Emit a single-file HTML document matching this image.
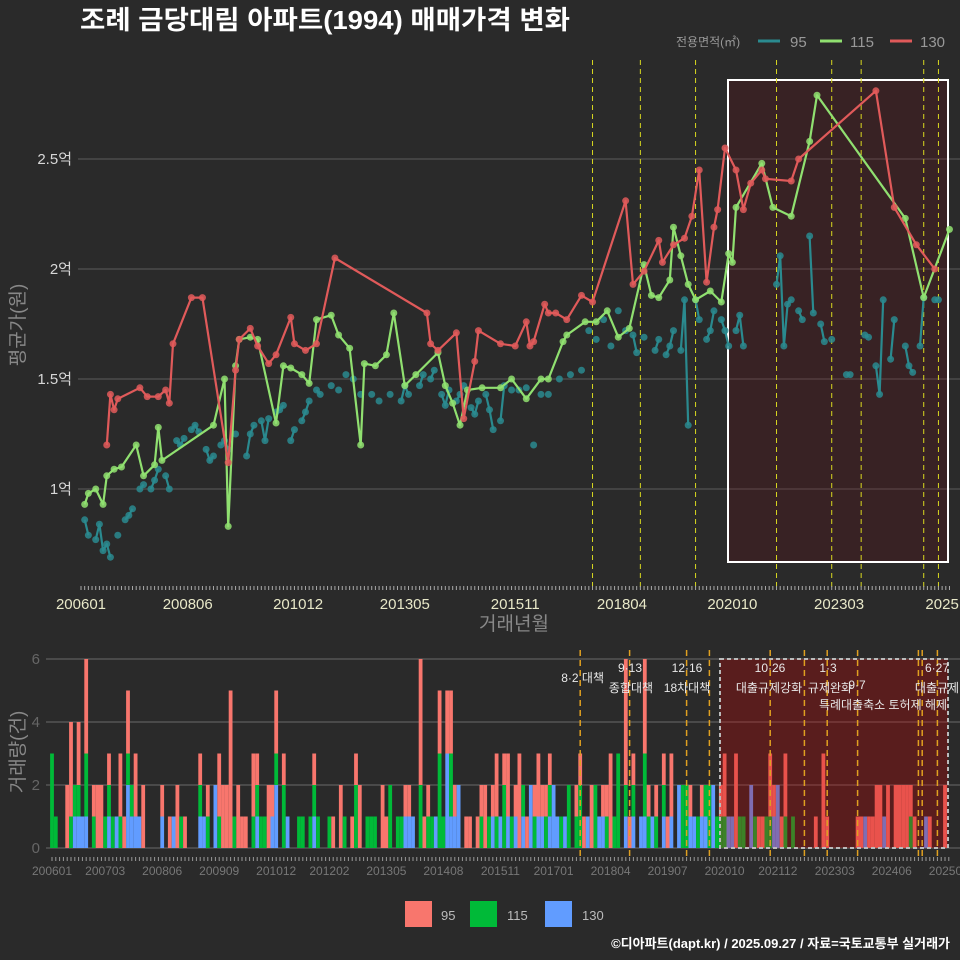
<!DOCTYPE html>
<html><head><meta charset="utf-8"><style>
html,body{margin:0;padding:0;background:#2a2a2a;}
svg{display:block;font-family:"Liberation Sans","Noto Sans CJK KR",sans-serif;}
</style></head><body>
<svg id="c" width="960" height="960" viewBox="0 0 960 960">
<rect x="0" y="0" width="960" height="960" fill="#2a2a2a"/>
<text x="80" y="29" fill="#ffffff" font-size="26" font-weight="bold" textLength="490" lengthAdjust="spacingAndGlyphs">조례 금당대림 아파트(1994) 매매가격 변화</text>
<g>
<text x="676" y="46" fill="#999" font-size="12">전용면적(㎡)</text>
<line x1="758" y1="41" x2="780" y2="41" stroke="#2a8a8f" stroke-width="3"/>
<text x="790" y="47" fill="#999" font-size="15">95</text>
<line x1="820" y1="41" x2="842" y2="41" stroke="#90e070" stroke-width="3"/>
<text x="850" y="47" fill="#999" font-size="15">115</text>
<line x1="890" y1="41" x2="912" y2="41" stroke="#e05a5a" stroke-width="3"/>
<text x="920" y="47" fill="#999" font-size="15">130</text>
</g>
<g id="topg"></g>
<g id="botg"></g>
<g>
<rect x="405" y="901" width="27" height="26" fill="#f8766d"/>
<text x="441" y="920" fill="#bbb" font-size="13">95</text>
<rect x="470" y="901" width="27" height="26" fill="#00ba38"/>
<text x="507" y="920" fill="#bbb" font-size="13">115</text>
<rect x="545" y="901" width="27" height="26" fill="#619cff"/>
<text x="582" y="920" fill="#bbb" font-size="13">130</text>
</g>
<text x="950" y="948" text-anchor="end" fill="#fff" font-size="13" font-weight="bold">©디아파트(dapt.kr) / 2025.09.27 / 자료=국토교통부 실거래가</text>
</svg>
<script>
// ---- data (month index from 2006-01) ----
const redMonths=[7,8,9,10,16,18,21,23,24,25,30,33,40,42,43,46,48,51,53,57,58,61,64,69,94,95,97,102,104,107,108,114,118,121,122,123,126,127,129,132,136,139,148,150,153,157,158,161,164,166,168,170,172,173,175,178,180,182,185,186,193,195,216,221,227,232];
const redValues=[1.20,1.43,1.36,1.41,1.46,1.42,1.42,1.45,1.39,1.66,1.87,1.87,1.12,1.54,1.68,1.73,1.65,1.57,1.61,1.78,1.66,1.63,1.66,2.05,1.80,1.66,1.63,1.71,1.32,1.58,1.72,1.66,1.65,1.76,1.65,1.67,1.84,1.80,1.80,1.77,1.88,1.85,2.31,1.93,1.99,2.13,2.03,2.11,2.14,2.24,2.45,1.94,2.19,2.27,2.55,2.45,2.27,2.39,2.45,2.41,2.40,2.50,2.81,2.28,2.11,2.00];
const greenMonths=[1,2,4,6,7,9,11,15,17,20,21,22,36,39,40,42,43,46,48,53,55,57,60,62,64,68,70,73,76,77,80,83,85,88,91,97,99,101,103,105,109,114,117,121,125,127,131,132,137,140,143,146,149,153,155,157,160,161,163,165,167,171,174,176,177,178,185,188,193,198,200,224,229,236];
const greenValues=[0.93,0.98,1.00,0.93,1.06,1.09,1.10,1.20,1.06,1.11,1.28,1.13,1.29,1.50,0.83,1.56,1.68,1.69,1.68,1.30,1.56,1.55,1.52,1.48,1.77,1.79,1.70,1.64,1.20,1.57,1.56,1.61,1.80,1.47,1.52,1.62,1.47,1.39,1.29,1.45,1.46,1.46,1.50,1.41,1.50,1.50,1.67,1.70,1.76,1.76,1.81,1.69,1.73,2.02,1.88,1.87,1.95,2.19,2.06,1.93,1.86,1.90,1.85,2.07,2.03,2.28,2.48,2.28,2.24,2.58,2.79,2.23,1.87,2.18];
const tealMonths=[1,2,4,5,6,7,8,10,12,13,14,16,17,19,20,21,23,24,26,27,28,30,31,32,34,35,36,38,39,40,42,45,46,47,49,50,51,53,54,55,57,58,60,61,62,64,65,68,70,72,74,76,79,81,84,87,88,89,92,93,95,96,98,99,100,102,103,104,106,107,108,110,111,112,114,115,117,119,121,123,125,127,130,133,136,138,140,142,144,146,148,150,151,153,156,157,159,160,161,163,164,165,167,168,170,171,172,174,175,176,178,179,180,189,190,191,192,193,195,196,198,199,201,202,204,208,209,213,214,216,217,218,220,221,224,225,226,228,229,232,233];
const tealValues=[0.86,0.79,0.77,0.84,0.72,0.75,0.69,0.79,0.86,0.88,0.91,1.00,1.02,1.00,1.04,1.09,1.06,1.00,1.22,1.20,1.23,1.27,1.29,1.26,1.18,1.13,1.15,1.20,1.22,1.18,1.25,1.15,1.25,1.29,1.31,1.22,1.32,1.35,1.36,1.38,1.22,1.27,1.31,1.35,1.40,1.45,1.43,1.47,1.45,1.52,1.50,1.43,1.43,1.40,1.43,1.40,1.47,1.43,1.47,1.52,1.50,1.54,1.43,1.38,1.45,1.40,1.43,1.47,1.37,1.34,1.40,1.43,1.36,1.27,1.31,1.47,1.45,1.45,1.46,1.20,1.43,1.43,1.50,1.52,1.54,1.72,1.68,1.77,1.65,1.81,1.72,1.70,1.62,1.69,1.63,1.68,1.61,1.65,1.72,1.63,1.86,1.29,1.86,1.77,1.68,1.72,1.81,1.77,1.72,1.65,1.72,1.79,1.65,1.93,2.06,1.65,1.84,1.86,1.81,1.77,2.15,1.80,1.75,1.67,1.68,1.52,1.52,1.70,1.69,1.56,1.43,1.86,1.59,1.77,1.65,1.56,1.53,1.65,1.87,1.86,1.86];
const topTickLabels=["200601","200806","201012","201305","201511","201804","202010","202303","2025"];
const topTickMonths=[0,29,59,88,118,147,177,206,234];
const yTickValues=[1,1.5,2,2.5];
const yTickLabels=["1억","1.5억","2억","2.5억"];
const policyMonthsTop=[139,152,167,189,204,212,229,233];
// volume bars
const barMonths=[0,1,4,5,6,7,8,9,11,12,13,14,15,16,17,18,19,20,21,22,23,24,29,31,32,33,34,35,39,40,41,43,44,45,46,47,48,49,50,51,53,54,55,56,57,58,59,61,62,65,66,68,69,70,73,74,76,77,79,80,81,83,84,85,87,88,89,91,92,93,94,95,97,98,99,100,101,102,103,104,105,106,107,109,110,112,113,114,115,116,117,118,119,120,121,122,123,124,125,126,127,128,129,130,131,132,133,134,135,136,138,139,140,141,142,143,144,145,146,147,148,149,151,152,153,155,156,157,158,159,161,162,163,165,166,167,168,169,170,171,172,173,174,175,176,177,178,179,180,181,182,184,185,186,187,188,189,190,191,192,193,195,201,203,204,212,213,214,215,216,217,218,219,220,222,223,224,225,226,227,230,231,235];
const bar95 =[0,0,2,3,0,2,0,3,1,2,2,0,1,0,0,2,1,2,0,2,0,2,1,1,0,2,0,1,1,0,1,0,2,2,2,5,0,2,1,1,2,1,0,0,2,1,2,1,0,0,0,0,1,0,0,1,2,0,1,1,2,0,0,0,2,1,0,0,0,1,1,0,4,1,1,0,0,2,0,2,2,1,0,1,1,1,1,2,0,1,2,0,1,2,0,1,3,0,1,0,1,2,1,1,1,0,0,0,0,0,1,1,1,0,2,0,0,1,1,3,0,0,4,1,1,0,3,1,0,1,1,1,2,0,0,0,1,0,0,1,0,0,0,0,1,2,0,0,3,0,0,0,0,1,1,0,2,1,0,1,2,0,1,3,1,1,1,0,1,1,2,2,0,2,2,2,2,2,1,1,0,1,2];
const bar115=[3,1,0,1,1,1,0,2,1,0,0,1,1,1,0,1,0,1,1,0,0,0,0,0,0,0,1,0,1,0,1,0,1,0,0,0,1,0,0,0,1,1,1,1,0,0,1,2,0,1,1,1,1,1,1,0,0,1,0,2,0,1,1,1,0,0,2,1,1,0,0,0,2,0,1,1,0,3,1,0,2,0,0,0,0,0,1,0,1,0,1,0,2,0,1,0,0,1,0,0,1,0,0,1,1,0,0,1,0,2,1,2,0,0,0,2,0,0,1,0,1,3,1,0,1,0,2,1,0,1,1,0,0,0,2,2,0,0,1,0,1,2,0,1,1,1,0,0,0,1,1,0,1,0,0,1,1,0,0,0,1,1,0,0,0,0,0,0,0,0,0,0,0,0,0,0,0,0,1,0,0,0,0];
const bar130=[0,0,0,0,1,1,1,1,0,0,0,0,1,0,1,0,0,2,1,1,1,0,1,0,1,0,0,0,1,1,0,2,0,0,0,0,0,0,0,0,0,1,0,0,0,1,2,0,1,0,0,0,1,0,0,0,0,0,0,0,0,0,0,0,0,0,0,0,0,1,1,1,0,0,0,0,1,0,0,3,1,1,2,0,0,0,0,0,0,1,0,1,0,1,0,1,0,1,0,2,0,1,1,0,1,2,1,0,1,0,0,0,0,1,0,0,1,1,0,0,0,0,1,0,1,1,1,0,1,0,1,0,1,2,0,0,1,1,0,1,1,0,2,0,0,0,1,1,0,0,0,2,0,0,0,0,0,1,2,0,0,0,0,0,0,0,0,1,0,0,0,0,1,0,0,0,0,0,0,0,1,0,0];
const botTickLabels=["200601","200703","200806","200909","201012","201202","201305","201408","201511","201701","201804","201907","202010","202112","202303","202406","202509"];
const botTickMonths=[0,14,29,44,59,73,88,103,118,132,147,162,177,191,206,221,236];
const volTicks=[0,2,4,6];
const policyMonthsBot=[139,152,167,173,189,198,204,212,228,229,233];
const annotations=[["8·2 대책",604,682,"end"],["9·13",630,672,"middle"],["종합대책",631,692,"middle"],["12·16",687,672,"middle"],["18차대책",687,692,"middle"],["10·26",770,672,"middle"],["대출규제강화",769,692,"middle"],["1·3",828,672,"middle"],["규제완화",830,692,"middle"],["9·7",857,689,"middle"],["특례대출축소 토허제 해제",883,709,"middle"],["6·27",937,672,"middle"],["대출규제",937,692,"middle"]];

const NS="http://www.w3.org/2000/svg";
function mk(tag,attrs,parent){const e=document.createElementNS(NS,tag);for(const k in attrs)e.setAttribute(k,attrs[k]);parent.appendChild(e);return e;}
const topG=document.getElementById('topg'),botG=document.getElementById('botg');
const xT=m=>81+m*3.68, yT=v=>489-(v-1)*220;
const xB=m=>52+m*3.8, yB=v=>848-v*31.5;

yTickValues.forEach((v,i)=>{
  const l=mk('line',{x1:78,x2:960,y1:yT(v),y2:yT(v),stroke:'#5c5c5c','stroke-width':1},topG);
  
  
  const t=mk('text',{x:72,y:yT(v)+5,'text-anchor':'end',fill:'#d8d8d8','font-size':15},topG);
  t.textContent=yTickLabels[i];
  
  
});
const sr=mk('rect',{x:728,y:80,width:220,height:482,fill:'rgba(110,10,20,0.22)',stroke:'#ffffff','stroke-width':2},topG);


policyMonthsTop.forEach(m=>{
  const l=mk('line',{x1:xT(m),x2:xT(m),y1:60,y2:588,stroke:'#d8d820','stroke-width':1,'stroke-dasharray':'5,4'},topG);
  
  
});
for(let m=0;m<=236;m++){
  const l=mk('line',{x1:xT(m),x2:xT(m),y1:586,y2:590,stroke:'#aaa','stroke-width':1},topG);
  
  
}
topTickLabels.forEach((s,i)=>{
  const t=mk('text',{x:xT(topTickMonths[i]),y:609,'text-anchor':'middle',fill:'#e8e8c8','font-size':15},topG);
  t.textContent=s;
  
  
});
const xt=mk('text',{x:514,y:630,'text-anchor':'middle',fill:'#888','font-size':19},topG);
xt.textContent='거래년월';


const yt=mk('text',{x:0,y:0,'text-anchor':'middle',fill:'#888','font-size':19,transform:'translate(24,325) rotate(-90)'},topG);
yt.textContent='평균가(원)';



function series(months,vals,color,name,gapBreak){
  let d='',prev=null;
  months.forEach((m,i)=>{
    const p=xT(m).toFixed(1)+','+yT(vals[i]).toFixed(1);
    if(prev===null||(gapBreak&&m-prev>1))d+='M'+p;else d+='L'+p;
    prev=m;
  });
  const pa=mk('path',{d:d,fill:'none',stroke:color,'stroke-width':2.2,'stroke-linejoin':'round'},topG);
  
  
  months.forEach((m,i)=>{
    const c=mk('circle',{cx:xT(m),cy:yT(vals[i]),r:3.5,fill:color,'fill-opacity':0.85},topG);
    
    
  });
}
series(tealMonths,tealValues,'#2a8a8f','series-95',true);
series(greenMonths,greenValues,'#90e070','series-115',false);
series(redMonths,redValues,'#e05a5a','series-130',false);

volTicks.forEach(v=>{
  const l=mk('line',{x1:46,x2:960,y1:yB(v),y2:yB(v),stroke:'#6a6a6a','stroke-width':1},botG);
  
  
  const t=mk('text',{x:40,y:yB(v)+5,'text-anchor':'end',fill:'#666','font-size':15},botG);
  t.textContent=String(v);
  
  
});
const bw=3.8;
barMonths.forEach((m,i)=>{
  const x=xB(m)-bw/2;let base=0;
  [[bar130[i],'#619cff','bar-130'],[bar115[i],'#00ba38','bar-115'],[bar95[i],'#f8766d','bar-95']].forEach(([v,col,nm])=>{
    if(v>0){
      const r=mk('rect',{x:x,y:yB(base+v),width:bw,height:yB(base)-yB(base+v),fill:col},botG);
      
      
      base+=v;
    }
  });
});
const br=mk('rect',{x:720,y:659,width:228,height:189,fill:'rgba(200,0,0,0.3)',stroke:'#bbbbbb','stroke-width':2,'stroke-dasharray':'4,3'},botG);


policyMonthsBot.forEach(m=>{
  const l=mk('line',{x1:xB(m),x2:xB(m),y1:650,y2:858,stroke:'#e0a020','stroke-width':1.5,'stroke-dasharray':'6,4'},botG);
  
  
});
annotations.forEach(a=>{
  const t=mk('text',{x:a[1],y:a[2],'text-anchor':a[3],fill:'#e8e8e8','font-size':12},botG);
  t.textContent=a[0];
  
  
});
for(let m=0;m<=236;m++){
  const l=mk('line',{x1:xB(m),x2:xB(m),y1:857,y2:861,stroke:'#999','stroke-width':1},botG);
  
  
}
botTickLabels.forEach((s,i)=>{
  const t=mk('text',{x:xB(botTickMonths[i]),y:875,'text-anchor':'middle',fill:'#777','font-size':12},botG);
  t.textContent=s;
  
  
});
const vt=mk('text',{x:0,y:0,'text-anchor':'middle',fill:'#888','font-size':19,transform:'translate(24,752) rotate(-90)'},botG);
vt.textContent='거래량(건)';


</script>
</body></html>
